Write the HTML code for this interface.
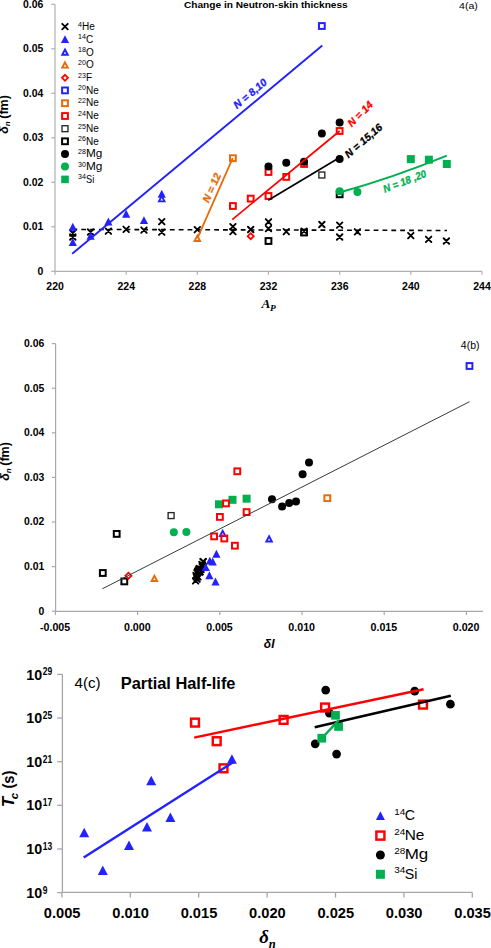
<!DOCTYPE html>
<html><head><meta charset="utf-8"><style>html,body{margin:0;padding:0;background:#fff;width:491px;height:948px;overflow:hidden}svg{display:block}</style></head>
<body><svg width="491" height="948" viewBox="0 0 491 948">
<rect width="491" height="948" fill="#fff"/>
<line x1="55.00" y1="4.30" x2="55.00" y2="271.30" stroke="#c4c4c4" stroke-width="1.6" />
<line x1="55.00" y1="271.30" x2="482.00" y2="271.30" stroke="#b0b0b0" stroke-width="1.3" />
<line x1="51.20" y1="271.30" x2="55.00" y2="271.30" stroke="#b0b0b0" stroke-width="1.2" />
<text transform="translate(43.23,274.75) scale(1.008,1)" font-size="10.34" font-family="Liberation Sans, sans-serif" font-weight="bold" font-style="normal" text-anchor="end" fill="#000000">0</text>
<line x1="51.20" y1="226.80" x2="55.00" y2="226.80" stroke="#b0b0b0" stroke-width="1.2" />
<text transform="translate(43.23,230.25) scale(1.008,1)" font-size="10.34" font-family="Liberation Sans, sans-serif" font-weight="bold" font-style="normal" text-anchor="end" fill="#000000">0.01</text>
<line x1="51.20" y1="182.30" x2="55.00" y2="182.30" stroke="#b0b0b0" stroke-width="1.2" />
<text transform="translate(43.23,185.75) scale(1.008,1)" font-size="10.34" font-family="Liberation Sans, sans-serif" font-weight="bold" font-style="normal" text-anchor="end" fill="#000000">0.02</text>
<line x1="51.20" y1="137.80" x2="55.00" y2="137.80" stroke="#b0b0b0" stroke-width="1.2" />
<text transform="translate(43.23,141.25) scale(1.008,1)" font-size="10.34" font-family="Liberation Sans, sans-serif" font-weight="bold" font-style="normal" text-anchor="end" fill="#000000">0.03</text>
<line x1="51.20" y1="93.30" x2="55.00" y2="93.30" stroke="#b0b0b0" stroke-width="1.2" />
<text transform="translate(43.23,96.75) scale(1.008,1)" font-size="10.34" font-family="Liberation Sans, sans-serif" font-weight="bold" font-style="normal" text-anchor="end" fill="#000000">0.04</text>
<line x1="51.20" y1="48.80" x2="55.00" y2="48.80" stroke="#b0b0b0" stroke-width="1.2" />
<text transform="translate(43.23,52.25) scale(1.008,1)" font-size="10.34" font-family="Liberation Sans, sans-serif" font-weight="bold" font-style="normal" text-anchor="end" fill="#000000">0.05</text>
<line x1="51.20" y1="4.30" x2="55.00" y2="4.30" stroke="#b0b0b0" stroke-width="1.2" />
<text transform="translate(43.23,7.75) scale(1.008,1)" font-size="10.34" font-family="Liberation Sans, sans-serif" font-weight="bold" font-style="normal" text-anchor="end" fill="#000000">0.06</text>
<line x1="55.00" y1="271.30" x2="55.00" y2="274.80" stroke="#b0b0b0" stroke-width="1.2" />
<text transform="translate(55.07,289.70) scale(0.937,1)" font-size="11.23" font-family="Liberation Sans, sans-serif" font-weight="bold" font-style="normal" text-anchor="middle" fill="#000000">220</text>
<line x1="126.16" y1="271.30" x2="126.16" y2="274.80" stroke="#b0b0b0" stroke-width="1.2" />
<text transform="translate(126.23,289.70) scale(0.937,1)" font-size="11.23" font-family="Liberation Sans, sans-serif" font-weight="bold" font-style="normal" text-anchor="middle" fill="#000000">224</text>
<line x1="197.32" y1="271.30" x2="197.32" y2="274.80" stroke="#b0b0b0" stroke-width="1.2" />
<text transform="translate(197.39,289.70) scale(0.937,1)" font-size="11.23" font-family="Liberation Sans, sans-serif" font-weight="bold" font-style="normal" text-anchor="middle" fill="#000000">228</text>
<line x1="268.48" y1="271.30" x2="268.48" y2="274.80" stroke="#b0b0b0" stroke-width="1.2" />
<text transform="translate(268.55,289.70) scale(0.937,1)" font-size="11.23" font-family="Liberation Sans, sans-serif" font-weight="bold" font-style="normal" text-anchor="middle" fill="#000000">232</text>
<line x1="339.64" y1="271.30" x2="339.64" y2="274.80" stroke="#b0b0b0" stroke-width="1.2" />
<text transform="translate(339.71,289.70) scale(0.937,1)" font-size="11.23" font-family="Liberation Sans, sans-serif" font-weight="bold" font-style="normal" text-anchor="middle" fill="#000000">236</text>
<line x1="410.80" y1="271.30" x2="410.80" y2="274.80" stroke="#b0b0b0" stroke-width="1.2" />
<text transform="translate(410.87,289.70) scale(0.937,1)" font-size="11.23" font-family="Liberation Sans, sans-serif" font-weight="bold" font-style="normal" text-anchor="middle" fill="#000000">240</text>
<line x1="481.96" y1="271.30" x2="481.96" y2="274.80" stroke="#b0b0b0" stroke-width="1.2" />
<text transform="translate(482.03,289.70) scale(0.937,1)" font-size="11.23" font-family="Liberation Sans, sans-serif" font-weight="bold" font-style="normal" text-anchor="middle" fill="#000000">244</text>
<text transform="translate(183.95,8.10) scale(1.023,1)" font-size="9.92" font-family="Liberation Sans, sans-serif" font-weight="bold" font-style="normal" text-anchor="start" fill="#000000">Change in Neutron-skin thickness</text>
<text transform="translate(459.12,8.70) scale(1.193,1)" font-size="8.84" font-family="Liberation Sans, sans-serif" font-weight="normal" font-style="normal" text-anchor="start" fill="#000000">4(a)</text>
<text transform="translate(8.4,133.8) rotate(-90)" font-size="12.5" font-weight="bold" font-family="Liberation Sans, sans-serif"><tspan font-style="italic">δ</tspan><tspan font-size="8" dy="2" font-style="italic">n</tspan><tspan dy="-2" dx="-0.9"> (fm)</tspan></text>
<text transform="translate(261.58,307.50) scale(1.003,1)" font-size="13.28" font-family="Liberation Serif, serif" font-weight="bold" font-style="italic" text-anchor="start" fill="#000000">A</text>
<text transform="translate(270.00,310.75) scale(1.100,1)" font-size="8.56" font-family="Liberation Serif, serif" font-weight="bold" font-style="italic" text-anchor="start" fill="#000000">P</text>
<path d="M62.25,23.85L67.75,29.35M62.25,29.35L67.75,23.85" stroke="#000000" stroke-width="1.9" stroke-linecap="round" fill="none"/>
<path d="M65.00,35.21L69.10,43.09L60.90,43.09Z" fill="#2222ff"/>
<path d="M65.00,49.52L67.76,54.78L62.24,54.78Z" fill="none" stroke="#2222ff" stroke-width="1.9" stroke-linejoin="miter"/>
<path d="M65.00,62.32L67.76,67.58L62.24,67.58Z" fill="none" stroke="#e46c0a" stroke-width="1.9" stroke-linejoin="miter"/>
<path d="M65.00,74.80L68.00,77.80L65.00,80.80L62.00,77.80Z" fill="none" stroke="#ff0000" stroke-width="1.8"/>
<rect x="62.10" y="87.50" width="5.80" height="5.80" fill="none" stroke="#2222ff" stroke-width="2.0"/>
<rect x="62.10" y="100.30" width="5.80" height="5.80" fill="none" stroke="#e46c0a" stroke-width="2.0"/>
<rect x="62.10" y="113.10" width="5.80" height="5.80" fill="none" stroke="#ff0000" stroke-width="2.0"/>
<rect x="62.02" y="125.72" width="5.95" height="5.95" fill="none" stroke="#262626" stroke-width="1.35"/>
<rect x="62.10" y="138.40" width="5.80" height="5.80" fill="none" stroke="#000000" stroke-width="2.0"/>
<circle cx="65.00" cy="154.00" r="4.00" fill="#000000"/>
<circle cx="65.00" cy="166.60" r="4.00" fill="#00b050"/>
<rect x="61.20" y="175.60" width="7.60" height="7.60" fill="#00b050"/>
<text transform="translate(78.03,26.64) scale(1.008,1)" font-size="7.03" font-family="Liberation Sans, sans-serif" font-weight="normal" font-style="normal" text-anchor="start" fill="#000000">4</text>
<text transform="translate(82.10,29.80) scale(1.000,1)" font-size="10.00" font-family="Liberation Sans, sans-serif" font-weight="normal" font-style="normal" text-anchor="start" fill="#000000">He</text>
<text transform="translate(78.03,39.44) scale(1.008,1)" font-size="7.03" font-family="Liberation Sans, sans-serif" font-weight="normal" font-style="normal" text-anchor="start" fill="#000000">14</text>
<text transform="translate(86.00,42.60) scale(1.000,1)" font-size="10.00" font-family="Liberation Sans, sans-serif" font-weight="normal" font-style="normal" text-anchor="start" fill="#000000">C</text>
<text transform="translate(78.03,52.34) scale(1.008,1)" font-size="7.03" font-family="Liberation Sans, sans-serif" font-weight="normal" font-style="normal" text-anchor="start" fill="#000000">18</text>
<text transform="translate(86.00,55.50) scale(1.000,1)" font-size="10.00" font-family="Liberation Sans, sans-serif" font-weight="normal" font-style="normal" text-anchor="start" fill="#000000">O</text>
<text transform="translate(78.03,65.14) scale(1.008,1)" font-size="7.03" font-family="Liberation Sans, sans-serif" font-weight="normal" font-style="normal" text-anchor="start" fill="#000000">20</text>
<text transform="translate(86.00,68.30) scale(1.000,1)" font-size="10.00" font-family="Liberation Sans, sans-serif" font-weight="normal" font-style="normal" text-anchor="start" fill="#000000">O</text>
<text transform="translate(78.03,77.84) scale(1.008,1)" font-size="7.03" font-family="Liberation Sans, sans-serif" font-weight="normal" font-style="normal" text-anchor="start" fill="#000000">23</text>
<text transform="translate(86.00,81.00) scale(1.000,1)" font-size="10.00" font-family="Liberation Sans, sans-serif" font-weight="normal" font-style="normal" text-anchor="start" fill="#000000">F</text>
<text transform="translate(78.03,90.44) scale(1.008,1)" font-size="7.03" font-family="Liberation Sans, sans-serif" font-weight="normal" font-style="normal" text-anchor="start" fill="#000000">20</text>
<text transform="translate(86.00,93.60) scale(1.000,1)" font-size="10.00" font-family="Liberation Sans, sans-serif" font-weight="normal" font-style="normal" text-anchor="start" fill="#000000">Ne</text>
<text transform="translate(78.03,103.24) scale(1.008,1)" font-size="7.03" font-family="Liberation Sans, sans-serif" font-weight="normal" font-style="normal" text-anchor="start" fill="#000000">22</text>
<text transform="translate(86.00,106.40) scale(1.000,1)" font-size="10.00" font-family="Liberation Sans, sans-serif" font-weight="normal" font-style="normal" text-anchor="start" fill="#000000">Ne</text>
<text transform="translate(78.03,116.04) scale(1.008,1)" font-size="7.03" font-family="Liberation Sans, sans-serif" font-weight="normal" font-style="normal" text-anchor="start" fill="#000000">24</text>
<text transform="translate(86.00,119.20) scale(1.000,1)" font-size="10.00" font-family="Liberation Sans, sans-serif" font-weight="normal" font-style="normal" text-anchor="start" fill="#000000">Ne</text>
<text transform="translate(78.03,128.74) scale(1.008,1)" font-size="7.03" font-family="Liberation Sans, sans-serif" font-weight="normal" font-style="normal" text-anchor="start" fill="#000000">25</text>
<text transform="translate(86.00,131.90) scale(1.000,1)" font-size="10.00" font-family="Liberation Sans, sans-serif" font-weight="normal" font-style="normal" text-anchor="start" fill="#000000">Ne</text>
<text transform="translate(78.03,141.34) scale(1.008,1)" font-size="7.03" font-family="Liberation Sans, sans-serif" font-weight="normal" font-style="normal" text-anchor="start" fill="#000000">26</text>
<text transform="translate(86.00,144.50) scale(1.000,1)" font-size="10.00" font-family="Liberation Sans, sans-serif" font-weight="normal" font-style="normal" text-anchor="start" fill="#000000">Ne</text>
<text transform="translate(78.03,154.04) scale(1.008,1)" font-size="7.03" font-family="Liberation Sans, sans-serif" font-weight="normal" font-style="normal" text-anchor="start" fill="#000000">28</text>
<text transform="translate(86.00,157.20) scale(1.180,1)" font-size="10.00" font-family="Liberation Sans, sans-serif" font-weight="normal" font-style="normal" text-anchor="start" fill="#000000">Mg</text>
<text transform="translate(78.03,166.64) scale(1.008,1)" font-size="7.03" font-family="Liberation Sans, sans-serif" font-weight="normal" font-style="normal" text-anchor="start" fill="#000000">30</text>
<text transform="translate(86.00,169.80) scale(1.180,1)" font-size="10.00" font-family="Liberation Sans, sans-serif" font-weight="normal" font-style="normal" text-anchor="start" fill="#000000">Mg</text>
<text transform="translate(78.03,179.44) scale(1.008,1)" font-size="7.03" font-family="Liberation Sans, sans-serif" font-weight="normal" font-style="normal" text-anchor="start" fill="#000000">34</text>
<text transform="translate(86.00,182.60) scale(0.920,1)" font-size="10.00" font-family="Liberation Sans, sans-serif" font-weight="normal" font-style="normal" text-anchor="start" fill="#000000">Si</text>
<line x1="72.40" y1="229.40" x2="447.00" y2="230.50" stroke="#000000" stroke-width="1.6" stroke-dasharray="4.8,4.06"/>
<path d="M70.04,230.25L75.54,235.75M70.04,235.75L75.54,230.25" stroke="#000000" stroke-width="1.9" stroke-linecap="round" fill="none"/>
<path d="M70.04,234.25L75.54,239.75M70.04,239.75L75.54,234.25" stroke="#000000" stroke-width="1.9" stroke-linecap="round" fill="none"/>
<path d="M87.83,229.25L93.33,234.75M87.83,234.75L93.33,229.25" stroke="#000000" stroke-width="1.9" stroke-linecap="round" fill="none"/>
<path d="M105.62,228.45L111.12,233.95M105.62,233.95L111.12,228.45" stroke="#000000" stroke-width="1.9" stroke-linecap="round" fill="none"/>
<path d="M123.41,226.55L128.91,232.05M123.41,232.05L128.91,226.55" stroke="#000000" stroke-width="1.9" stroke-linecap="round" fill="none"/>
<path d="M141.20,227.35L146.70,232.85M141.20,232.85L146.70,227.35" stroke="#000000" stroke-width="1.9" stroke-linecap="round" fill="none"/>
<path d="M158.99,218.95L164.49,224.45M158.99,224.45L164.49,218.95" stroke="#000000" stroke-width="1.9" stroke-linecap="round" fill="none"/>
<path d="M158.99,229.45L164.49,234.95M158.99,234.95L164.49,229.45" stroke="#000000" stroke-width="1.9" stroke-linecap="round" fill="none"/>
<path d="M194.57,226.95L200.07,232.45M194.57,232.45L200.07,226.95" stroke="#000000" stroke-width="1.9" stroke-linecap="round" fill="none"/>
<path d="M230.15,223.95L235.65,229.45M230.15,229.45L235.65,223.95" stroke="#000000" stroke-width="1.9" stroke-linecap="round" fill="none"/>
<path d="M230.15,228.85L235.65,234.35M230.15,234.35L235.65,228.85" stroke="#000000" stroke-width="1.9" stroke-linecap="round" fill="none"/>
<path d="M247.94,226.75L253.44,232.25M247.94,232.25L253.44,226.75" stroke="#000000" stroke-width="1.9" stroke-linecap="round" fill="none"/>
<path d="M265.73,219.05L271.23,224.55M265.73,224.55L271.23,219.05" stroke="#000000" stroke-width="1.9" stroke-linecap="round" fill="none"/>
<path d="M265.73,225.85L271.23,231.35M265.73,231.35L271.23,225.85" stroke="#000000" stroke-width="1.9" stroke-linecap="round" fill="none"/>
<path d="M283.52,228.95L289.02,234.45M283.52,234.45L289.02,228.95" stroke="#000000" stroke-width="1.9" stroke-linecap="round" fill="none"/>
<path d="M301.31,228.45L306.81,233.95M301.31,233.95L306.81,228.45" stroke="#000000" stroke-width="1.9" stroke-linecap="round" fill="none"/>
<path d="M319.10,221.75L324.60,227.25M319.10,227.25L324.60,221.75" stroke="#000000" stroke-width="1.9" stroke-linecap="round" fill="none"/>
<path d="M336.89,222.45L342.39,227.95M336.89,227.95L342.39,222.45" stroke="#000000" stroke-width="1.9" stroke-linecap="round" fill="none"/>
<path d="M336.89,234.25L342.39,239.75M336.89,239.75L342.39,234.25" stroke="#000000" stroke-width="1.9" stroke-linecap="round" fill="none"/>
<path d="M354.68,229.05L360.18,234.55M354.68,234.55L360.18,229.05" stroke="#000000" stroke-width="1.9" stroke-linecap="round" fill="none"/>
<path d="M408.05,232.85L413.55,238.35M408.05,238.35L413.55,232.85" stroke="#000000" stroke-width="1.9" stroke-linecap="round" fill="none"/>
<path d="M425.84,236.55L431.34,242.05M425.84,242.05L431.34,236.55" stroke="#000000" stroke-width="1.9" stroke-linecap="round" fill="none"/>
<path d="M443.63,238.25L449.13,243.75M443.63,243.75L449.13,238.25" stroke="#000000" stroke-width="1.9" stroke-linecap="round" fill="none"/>
<path d="M72.79,222.81L76.89,230.69L68.69,230.69Z" fill="#2222ff"/>
<path d="M72.79,238.01L76.89,245.89L68.69,245.89Z" fill="#2222ff"/>
<path d="M90.58,231.81L94.68,239.69L86.48,239.69Z" fill="#2222ff"/>
<path d="M108.37,217.61L112.47,225.49L104.27,225.49Z" fill="#2222ff"/>
<path d="M126.16,209.81L130.26,217.69L122.06,217.69Z" fill="#2222ff"/>
<path d="M143.95,216.21L148.05,224.09L139.85,224.09Z" fill="#2222ff"/>
<path d="M161.74,189.81L165.84,197.69L157.64,197.69Z" fill="#2222ff"/>
<path d="M161.74,196.12L164.50,201.38L158.98,201.38Z" fill="none" stroke="#2222ff" stroke-width="1.9" stroke-linejoin="miter"/>
<path d="M197.32,235.72L200.08,240.98L194.56,240.98Z" fill="none" stroke="#e46c0a" stroke-width="1.9" stroke-linejoin="miter"/>
<path d="M250.69,233.20L253.69,236.20L250.69,239.20L247.69,236.20Z" fill="none" stroke="#ff0000" stroke-width="1.8"/>
<rect x="318.95" y="23.10" width="5.80" height="5.80" fill="none" stroke="#2222ff" stroke-width="2.0"/>
<rect x="230.00" y="155.30" width="5.80" height="5.80" fill="none" stroke="#e46c0a" stroke-width="2.0"/>
<rect x="230.00" y="203.10" width="5.80" height="5.80" fill="none" stroke="#ff0000" stroke-width="2.0"/>
<rect x="247.79" y="195.70" width="5.80" height="5.80" fill="none" stroke="#ff0000" stroke-width="2.0"/>
<rect x="265.58" y="169.10" width="5.80" height="5.80" fill="none" stroke="#ff0000" stroke-width="2.0"/>
<rect x="265.58" y="193.10" width="5.80" height="5.80" fill="none" stroke="#ff0000" stroke-width="2.0"/>
<rect x="283.37" y="174.00" width="5.80" height="5.80" fill="none" stroke="#ff0000" stroke-width="2.0"/>
<rect x="301.16" y="161.10" width="5.80" height="5.80" fill="none" stroke="#ff0000" stroke-width="2.0"/>
<rect x="336.74" y="128.10" width="5.80" height="5.80" fill="none" stroke="#ff0000" stroke-width="2.0"/>
<rect x="318.87" y="172.03" width="5.95" height="5.95" fill="none" stroke="#262626" stroke-width="1.35"/>
<rect x="265.58" y="238.10" width="5.80" height="5.80" fill="none" stroke="#000000" stroke-width="2.0"/>
<rect x="301.16" y="229.60" width="5.80" height="5.80" fill="none" stroke="#000000" stroke-width="2.0"/>
<rect x="336.74" y="191.40" width="5.80" height="5.80" fill="none" stroke="#000000" stroke-width="2.0"/>
<circle cx="268.48" cy="166.50" r="4.00" fill="#000000"/>
<circle cx="286.27" cy="162.80" r="4.00" fill="#000000"/>
<circle cx="304.06" cy="161.70" r="4.00" fill="#000000"/>
<circle cx="321.85" cy="133.60" r="4.00" fill="#000000"/>
<circle cx="339.64" cy="122.40" r="4.00" fill="#000000"/>
<circle cx="339.64" cy="159.10" r="4.00" fill="#000000"/>
<circle cx="339.64" cy="191.20" r="4.00" fill="#00b050"/>
<circle cx="357.43" cy="192.00" r="4.00" fill="#00b050"/>
<rect x="406.80" y="155.10" width="8.00" height="8.00" fill="#00b050"/>
<rect x="424.90" y="155.70" width="8.00" height="8.00" fill="#00b050"/>
<rect x="442.80" y="160.00" width="8.00" height="8.00" fill="#00b050"/>
<line x1="72.20" y1="253.80" x2="322.30" y2="45.60" stroke="#2222ff" stroke-width="1.9" />
<line x1="197.70" y1="237.70" x2="232.70" y2="158.20" stroke="#e46c0a" stroke-width="1.8" />
<line x1="232.20" y1="219.60" x2="339.70" y2="131.00" stroke="#ff0000" stroke-width="1.7" />
<line x1="268.20" y1="200.20" x2="339.70" y2="157.60" stroke="#000000" stroke-width="1.7" />
<path d="M339.5,192.5 Q393.2,177.6 446.8,155.6" stroke="#00b050" stroke-width="2" fill="none"/>
<text transform="translate(250.0,93.5) rotate(-39.8) scale(1.0,1)" text-anchor="middle" font-size="10.5" font-weight="bold" font-style="italic" fill="#2222ff" stroke="#2222ff" stroke-width="0.3" font-family="Liberation Sans, sans-serif" x="0" y="3.8">N = 8,10</text>
<text transform="translate(211.5,187.8) rotate(-66) scale(1.0,1)" text-anchor="middle" font-size="10.5" font-weight="bold" font-style="italic" fill="#e46c0a" stroke="#e46c0a" stroke-width="0.3" font-family="Liberation Sans, sans-serif" x="0" y="3.8">N = 12</text>
<text transform="translate(360,113.8) rotate(-45) scale(1.0,1)" text-anchor="middle" font-size="10.5" font-weight="bold" font-style="italic" fill="#ff0000" stroke="#ff0000" stroke-width="0.3" font-family="Liberation Sans, sans-serif" x="0" y="3.8">N = 14</text>
<text transform="translate(363.3,140.5) rotate(-41) scale(1.0,1)" text-anchor="middle" font-size="10.5" font-weight="bold" font-style="italic" fill="#000000" stroke="#000000" stroke-width="0.3" font-family="Liberation Sans, sans-serif" x="0" y="3.8">N = 15,16</text>
<text transform="translate(404.6,181.0) rotate(-21) scale(0.93,1)" text-anchor="middle" font-size="10.5" font-weight="bold" font-style="italic" fill="#00b050" stroke="#00b050" stroke-width="0.3" font-family="Liberation Sans, sans-serif" x="0" y="3.8">N = 18 ,20</text>
<line x1="55.60" y1="343.60" x2="55.60" y2="611.40" stroke="#a8a8a8" stroke-width="1.2" />
<line x1="55.60" y1="611.40" x2="483.00" y2="611.40" stroke="#a8a8a8" stroke-width="1.2" />
<line x1="51.90" y1="611.20" x2="55.60" y2="611.20" stroke="#a8a8a8" stroke-width="1.2" />
<text transform="translate(44.33,614.65) scale(1.008,1)" font-size="10.34" font-family="Liberation Sans, sans-serif" font-weight="bold" font-style="normal" text-anchor="end" fill="#000000">0</text>
<line x1="51.90" y1="566.60" x2="55.60" y2="566.60" stroke="#a8a8a8" stroke-width="1.2" />
<text transform="translate(44.33,570.05) scale(1.008,1)" font-size="10.34" font-family="Liberation Sans, sans-serif" font-weight="bold" font-style="normal" text-anchor="end" fill="#000000">0.01</text>
<line x1="51.90" y1="522.00" x2="55.60" y2="522.00" stroke="#a8a8a8" stroke-width="1.2" />
<text transform="translate(44.33,525.45) scale(1.008,1)" font-size="10.34" font-family="Liberation Sans, sans-serif" font-weight="bold" font-style="normal" text-anchor="end" fill="#000000">0.02</text>
<line x1="51.90" y1="477.40" x2="55.60" y2="477.40" stroke="#a8a8a8" stroke-width="1.2" />
<text transform="translate(44.33,480.85) scale(1.008,1)" font-size="10.34" font-family="Liberation Sans, sans-serif" font-weight="bold" font-style="normal" text-anchor="end" fill="#000000">0.03</text>
<line x1="51.90" y1="432.80" x2="55.60" y2="432.80" stroke="#a8a8a8" stroke-width="1.2" />
<text transform="translate(44.33,436.25) scale(1.008,1)" font-size="10.34" font-family="Liberation Sans, sans-serif" font-weight="bold" font-style="normal" text-anchor="end" fill="#000000">0.04</text>
<line x1="51.90" y1="388.20" x2="55.60" y2="388.20" stroke="#a8a8a8" stroke-width="1.2" />
<text transform="translate(44.33,391.65) scale(1.008,1)" font-size="10.34" font-family="Liberation Sans, sans-serif" font-weight="bold" font-style="normal" text-anchor="end" fill="#000000">0.05</text>
<line x1="51.90" y1="343.60" x2="55.60" y2="343.60" stroke="#a8a8a8" stroke-width="1.2" />
<text transform="translate(44.33,347.05) scale(1.008,1)" font-size="10.34" font-family="Liberation Sans, sans-serif" font-weight="bold" font-style="normal" text-anchor="end" fill="#000000">0.06</text>
<line x1="55.40" y1="611.40" x2="55.40" y2="614.90" stroke="#a8a8a8" stroke-width="1.2" />
<text transform="translate(55.07,631.00) scale(1.021,1)" font-size="10.43" font-family="Liberation Sans, sans-serif" font-weight="bold" font-style="normal" text-anchor="middle" fill="#000000">-0.005</text>
<line x1="137.60" y1="611.40" x2="137.60" y2="614.90" stroke="#a8a8a8" stroke-width="1.2" />
<text transform="translate(137.27,631.00) scale(1.021,1)" font-size="10.43" font-family="Liberation Sans, sans-serif" font-weight="bold" font-style="normal" text-anchor="middle" fill="#000000">0.000</text>
<line x1="219.80" y1="611.40" x2="219.80" y2="614.90" stroke="#a8a8a8" stroke-width="1.2" />
<text transform="translate(219.47,631.00) scale(1.021,1)" font-size="10.43" font-family="Liberation Sans, sans-serif" font-weight="bold" font-style="normal" text-anchor="middle" fill="#000000">0.005</text>
<line x1="302.00" y1="611.40" x2="302.00" y2="614.90" stroke="#a8a8a8" stroke-width="1.2" />
<text transform="translate(301.67,631.00) scale(1.021,1)" font-size="10.43" font-family="Liberation Sans, sans-serif" font-weight="bold" font-style="normal" text-anchor="middle" fill="#000000">0.010</text>
<line x1="384.20" y1="611.40" x2="384.20" y2="614.90" stroke="#a8a8a8" stroke-width="1.2" />
<text transform="translate(383.87,631.00) scale(1.021,1)" font-size="10.43" font-family="Liberation Sans, sans-serif" font-weight="bold" font-style="normal" text-anchor="middle" fill="#000000">0.015</text>
<line x1="466.40" y1="611.40" x2="466.40" y2="614.90" stroke="#a8a8a8" stroke-width="1.2" />
<text transform="translate(466.07,631.00) scale(1.021,1)" font-size="10.43" font-family="Liberation Sans, sans-serif" font-weight="bold" font-style="normal" text-anchor="middle" fill="#000000">0.020</text>
<text transform="translate(460.79,348.77) scale(0.961,1)" font-size="10.96" font-family="Liberation Sans, sans-serif" font-weight="normal" font-style="normal" text-anchor="start" fill="#000000">4(b)</text>
<text transform="translate(8.9,480.8) rotate(-90)" font-size="12.5" font-weight="bold" font-family="Liberation Sans, sans-serif"><tspan font-style="italic">δ</tspan><tspan font-size="8" dy="2" font-style="italic">n</tspan><tspan dy="-2" dx="-0.9"> (fm)</tspan></text>
<text transform="translate(263.81,647.80) scale(0.916,1)" font-size="13.15" font-family="Liberation Sans, sans-serif" font-weight="bold" font-style="italic" text-anchor="start" fill="#000000">δI</text>
<rect x="466.60" y="363.10" width="5.80" height="5.80" fill="none" stroke="#2222ff" stroke-width="2.0"/>
<rect x="99.90" y="570.10" width="5.80" height="5.80" fill="none" stroke="#000000" stroke-width="2.0"/>
<rect x="113.80" y="531.00" width="5.80" height="5.80" fill="none" stroke="#000000" stroke-width="2.0"/>
<rect x="121.40" y="578.50" width="5.80" height="5.80" fill="none" stroke="#000000" stroke-width="2.0"/>
<path d="M128.40,572.70L131.40,575.70L128.40,578.70L125.40,575.70Z" fill="none" stroke="#ff0000" stroke-width="1.8"/>
<path d="M154.40,575.72L157.16,580.98L151.64,580.98Z" fill="none" stroke="#e46c0a" stroke-width="1.9" stroke-linejoin="miter"/>
<rect x="168.12" y="512.62" width="5.95" height="5.95" fill="none" stroke="#262626" stroke-width="1.35"/>
<circle cx="173.80" cy="532.30" r="4.00" fill="#00b050"/>
<circle cx="186.40" cy="532.00" r="4.00" fill="#00b050"/>
<rect x="215.00" y="500.30" width="8.00" height="8.00" fill="#00b050"/>
<rect x="228.50" y="495.80" width="8.00" height="8.00" fill="#00b050"/>
<rect x="242.60" y="494.70" width="8.00" height="8.00" fill="#00b050"/>
<path d="M222.70,530.82L225.46,536.08L219.94,536.08Z" fill="none" stroke="#2222ff" stroke-width="1.9" stroke-linejoin="miter"/>
<path d="M269.10,536.22L271.86,541.48L266.34,541.48Z" fill="none" stroke="#2222ff" stroke-width="1.9" stroke-linejoin="miter"/>
<rect x="223.10" y="500.50" width="5.80" height="5.80" fill="none" stroke="#ff0000" stroke-width="2.0"/>
<rect x="217.00" y="514.00" width="5.80" height="5.80" fill="none" stroke="#ff0000" stroke-width="2.0"/>
<rect x="211.20" y="533.50" width="5.80" height="5.80" fill="none" stroke="#ff0000" stroke-width="2.0"/>
<rect x="221.40" y="535.60" width="5.80" height="5.80" fill="none" stroke="#ff0000" stroke-width="2.0"/>
<rect x="232.00" y="542.80" width="5.80" height="5.80" fill="none" stroke="#ff0000" stroke-width="2.0"/>
<rect x="234.40" y="468.40" width="5.80" height="5.80" fill="none" stroke="#ff0000" stroke-width="2.0"/>
<rect x="243.70" y="509.20" width="5.80" height="5.80" fill="none" stroke="#ff0000" stroke-width="2.0"/>
<path d="M194.30,570.15L199.80,575.65M194.30,575.65L199.80,570.15" stroke="#000000" stroke-width="1.9" stroke-linecap="round" fill="none"/>
<path d="M195.23,574.15L200.73,579.65M195.23,579.65L200.73,574.15" stroke="#000000" stroke-width="1.9" stroke-linecap="round" fill="none"/>
<path d="M196.39,569.15L201.89,574.65M196.39,574.65L201.89,569.15" stroke="#000000" stroke-width="1.9" stroke-linecap="round" fill="none"/>
<path d="M195.51,568.35L201.01,573.85M195.51,573.85L201.01,568.35" stroke="#000000" stroke-width="1.9" stroke-linecap="round" fill="none"/>
<path d="M198.06,566.45L203.56,571.95M198.06,571.95L203.56,566.45" stroke="#000000" stroke-width="1.9" stroke-linecap="round" fill="none"/>
<path d="M195.64,567.25L201.14,572.75M195.64,572.75L201.14,567.25" stroke="#000000" stroke-width="1.9" stroke-linecap="round" fill="none"/>
<path d="M200.35,558.85L205.85,564.35M200.35,564.35L205.85,558.85" stroke="#000000" stroke-width="1.9" stroke-linecap="round" fill="none"/>
<path d="M196.82,569.35L202.32,574.85M196.82,574.85L202.32,569.35" stroke="#000000" stroke-width="1.9" stroke-linecap="round" fill="none"/>
<path d="M196.40,566.85L201.90,572.35M196.40,572.35L201.90,566.85" stroke="#000000" stroke-width="1.9" stroke-linecap="round" fill="none"/>
<path d="M199.38,563.85L204.88,569.35M199.38,569.35L204.88,563.85" stroke="#000000" stroke-width="1.9" stroke-linecap="round" fill="none"/>
<path d="M194.85,568.75L200.35,574.25M194.85,574.25L200.35,568.75" stroke="#000000" stroke-width="1.9" stroke-linecap="round" fill="none"/>
<path d="M198.18,566.65L203.68,572.15M198.18,572.15L203.68,566.65" stroke="#000000" stroke-width="1.9" stroke-linecap="round" fill="none"/>
<path d="M200.41,558.95L205.91,564.45M200.41,564.45L205.91,558.95" stroke="#000000" stroke-width="1.9" stroke-linecap="round" fill="none"/>
<path d="M196.53,565.75L202.03,571.25M196.53,571.25L202.03,565.75" stroke="#000000" stroke-width="1.9" stroke-linecap="round" fill="none"/>
<path d="M197.11,568.85L202.61,574.35M197.11,574.35L202.61,568.85" stroke="#000000" stroke-width="1.9" stroke-linecap="round" fill="none"/>
<path d="M194.58,569.95L200.08,575.45M194.58,575.45L200.08,569.95" stroke="#000000" stroke-width="1.9" stroke-linecap="round" fill="none"/>
<path d="M199.25,561.65L204.75,567.15M199.25,567.15L204.75,561.65" stroke="#000000" stroke-width="1.9" stroke-linecap="round" fill="none"/>
<path d="M199.57,562.35L205.07,567.85M199.57,567.85L205.07,562.35" stroke="#000000" stroke-width="1.9" stroke-linecap="round" fill="none"/>
<path d="M193.53,574.15L199.03,579.65M193.53,579.65L199.03,574.15" stroke="#000000" stroke-width="1.9" stroke-linecap="round" fill="none"/>
<path d="M197.37,568.95L202.87,574.45M197.37,574.45L202.87,568.95" stroke="#000000" stroke-width="1.9" stroke-linecap="round" fill="none"/>
<path d="M193.28,572.75L198.78,578.25M193.28,578.25L198.78,572.75" stroke="#000000" stroke-width="1.9" stroke-linecap="round" fill="none"/>
<path d="M194.32,576.45L199.82,581.95M194.32,581.95L199.82,576.45" stroke="#000000" stroke-width="1.9" stroke-linecap="round" fill="none"/>
<path d="M192.85,578.15L198.35,583.65M192.85,583.65L198.35,578.15" stroke="#000000" stroke-width="1.9" stroke-linecap="round" fill="none"/>
<path d="M216.40,549.81L220.50,557.69L212.30,557.69Z" fill="#2222ff"/>
<path d="M209.80,556.71L213.90,564.59L205.70,564.59Z" fill="#2222ff"/>
<path d="M212.70,557.51L216.80,565.39L208.60,565.39Z" fill="#2222ff"/>
<path d="M205.80,563.21L209.90,571.09L201.70,571.09Z" fill="#2222ff"/>
<path d="M209.40,571.31L213.50,579.19L205.30,579.19Z" fill="#2222ff"/>
<path d="M215.50,577.51L219.60,585.39L211.40,585.39Z" fill="#2222ff"/>
<circle cx="272.00" cy="499.20" r="4.00" fill="#000000"/>
<circle cx="282.10" cy="506.50" r="4.00" fill="#000000"/>
<circle cx="289.20" cy="503.10" r="4.00" fill="#000000"/>
<circle cx="296.00" cy="501.60" r="4.00" fill="#000000"/>
<circle cx="302.60" cy="474.20" r="4.00" fill="#000000"/>
<circle cx="309.00" cy="462.50" r="4.00" fill="#000000"/>
<rect x="324.40" y="495.30" width="5.80" height="5.80" fill="none" stroke="#e46c0a" stroke-width="2.0"/>
<line x1="102.30" y1="588.80" x2="469.50" y2="401.70" stroke="#3a3a3a" stroke-width="1.0" />
<line x1="62.40" y1="674.40" x2="62.40" y2="892.40" stroke="#a6a6a6" stroke-width="1.3" />
<line x1="62.40" y1="892.40" x2="472.30" y2="892.40" stroke="#a6a6a6" stroke-width="1.3" />
<line x1="57.20" y1="892.60" x2="62.40" y2="892.60" stroke="#a6a6a6" stroke-width="1.3" />
<text transform="translate(26.19,897.70) scale(0.925,1)" font-size="15.44" font-family="Liberation Sans, sans-serif" font-weight="bold" font-style="normal" text-anchor="start" fill="#000000">10</text>
<text transform="translate(42.85,893.50) scale(0.831,1)" font-size="10.18" font-family="Liberation Sans, sans-serif" font-weight="bold" font-style="normal" text-anchor="start" fill="#000000">9</text>
<line x1="57.20" y1="848.96" x2="62.40" y2="848.96" stroke="#a6a6a6" stroke-width="1.3" />
<text transform="translate(26.19,854.06) scale(0.925,1)" font-size="15.44" font-family="Liberation Sans, sans-serif" font-weight="bold" font-style="normal" text-anchor="start" fill="#000000">10</text>
<text transform="translate(42.85,849.86) scale(0.831,1)" font-size="10.18" font-family="Liberation Sans, sans-serif" font-weight="bold" font-style="normal" text-anchor="start" fill="#000000">13</text>
<line x1="57.20" y1="805.32" x2="62.40" y2="805.32" stroke="#a6a6a6" stroke-width="1.3" />
<text transform="translate(26.19,810.42) scale(0.925,1)" font-size="15.44" font-family="Liberation Sans, sans-serif" font-weight="bold" font-style="normal" text-anchor="start" fill="#000000">10</text>
<text transform="translate(42.85,806.22) scale(0.831,1)" font-size="10.18" font-family="Liberation Sans, sans-serif" font-weight="bold" font-style="normal" text-anchor="start" fill="#000000">17</text>
<line x1="57.20" y1="761.68" x2="62.40" y2="761.68" stroke="#a6a6a6" stroke-width="1.3" />
<text transform="translate(26.19,766.78) scale(0.925,1)" font-size="15.44" font-family="Liberation Sans, sans-serif" font-weight="bold" font-style="normal" text-anchor="start" fill="#000000">10</text>
<text transform="translate(42.85,762.58) scale(0.831,1)" font-size="10.18" font-family="Liberation Sans, sans-serif" font-weight="bold" font-style="normal" text-anchor="start" fill="#000000">21</text>
<line x1="57.20" y1="718.04" x2="62.40" y2="718.04" stroke="#a6a6a6" stroke-width="1.3" />
<text transform="translate(26.19,723.14) scale(0.925,1)" font-size="15.44" font-family="Liberation Sans, sans-serif" font-weight="bold" font-style="normal" text-anchor="start" fill="#000000">10</text>
<text transform="translate(42.85,718.94) scale(0.831,1)" font-size="10.18" font-family="Liberation Sans, sans-serif" font-weight="bold" font-style="normal" text-anchor="start" fill="#000000">25</text>
<line x1="57.20" y1="674.40" x2="62.40" y2="674.40" stroke="#a6a6a6" stroke-width="1.3" />
<text transform="translate(26.19,679.50) scale(0.925,1)" font-size="15.44" font-family="Liberation Sans, sans-serif" font-weight="bold" font-style="normal" text-anchor="start" fill="#000000">10</text>
<text transform="translate(42.85,675.30) scale(0.831,1)" font-size="10.18" font-family="Liberation Sans, sans-serif" font-weight="bold" font-style="normal" text-anchor="start" fill="#000000">29</text>
<line x1="61.90" y1="892.40" x2="61.90" y2="897.60" stroke="#a6a6a6" stroke-width="1.3" />
<text transform="translate(62.19,918.30) scale(0.983,1)" font-size="14.92" font-family="Liberation Sans, sans-serif" font-weight="bold" font-style="normal" text-anchor="middle" fill="#000000">0.005</text>
<line x1="130.30" y1="892.40" x2="130.30" y2="897.60" stroke="#a6a6a6" stroke-width="1.3" />
<text transform="translate(130.59,918.30) scale(0.983,1)" font-size="14.92" font-family="Liberation Sans, sans-serif" font-weight="bold" font-style="normal" text-anchor="middle" fill="#000000">0.010</text>
<line x1="198.70" y1="892.40" x2="198.70" y2="897.60" stroke="#a6a6a6" stroke-width="1.3" />
<text transform="translate(198.99,918.30) scale(0.983,1)" font-size="14.92" font-family="Liberation Sans, sans-serif" font-weight="bold" font-style="normal" text-anchor="middle" fill="#000000">0.015</text>
<line x1="267.10" y1="892.40" x2="267.10" y2="897.60" stroke="#a6a6a6" stroke-width="1.3" />
<text transform="translate(267.39,918.30) scale(0.983,1)" font-size="14.92" font-family="Liberation Sans, sans-serif" font-weight="bold" font-style="normal" text-anchor="middle" fill="#000000">0.020</text>
<line x1="335.50" y1="892.40" x2="335.50" y2="897.60" stroke="#a6a6a6" stroke-width="1.3" />
<text transform="translate(335.79,918.30) scale(0.983,1)" font-size="14.92" font-family="Liberation Sans, sans-serif" font-weight="bold" font-style="normal" text-anchor="middle" fill="#000000">0.025</text>
<line x1="403.90" y1="892.40" x2="403.90" y2="897.60" stroke="#a6a6a6" stroke-width="1.3" />
<text transform="translate(404.19,918.30) scale(0.983,1)" font-size="14.92" font-family="Liberation Sans, sans-serif" font-weight="bold" font-style="normal" text-anchor="middle" fill="#000000">0.030</text>
<line x1="472.30" y1="892.40" x2="472.30" y2="897.60" stroke="#a6a6a6" stroke-width="1.3" />
<text transform="translate(472.59,918.30) scale(0.983,1)" font-size="14.92" font-family="Liberation Sans, sans-serif" font-weight="bold" font-style="normal" text-anchor="middle" fill="#000000">0.035</text>
<text transform="translate(74.47,687.90) scale(1.105,1)" font-size="13.72" font-family="Liberation Sans, sans-serif" font-weight="normal" font-style="normal" text-anchor="start" fill="#000000">4(c)</text>
<text transform="translate(120.75,689.00) scale(1.013,1)" font-size="16.19" font-family="Liberation Sans, sans-serif" font-weight="bold" font-style="normal" text-anchor="start" fill="#000000">Partial Half-life</text>
<g transform="translate(14.2,807.2) rotate(-90)" font-weight="bold" font-family="Liberation Sans, sans-serif"><text font-size="17" font-style="italic">T</text><text x="7.9" y="4" font-size="11.5" font-style="italic">c</text><text transform="translate(18.6,0) scale(0.87,1)" font-size="17">(s)</text></g>
<text transform="translate(259.21,942.95) scale(0.999,1)" font-size="18.88" font-family="Liberation Serif, serif" font-weight="bold" font-style="italic" text-anchor="start" fill="#000000">δ</text>
<text x="268.8" y="948.4" font-size="12.5" font-weight="bold" font-style="italic" font-family="Liberation Serif, serif">n</text>
<path d="M84.20,827.70L89.20,837.20L79.20,837.20Z" fill="#2222ff"/>
<path d="M102.80,865.60L107.80,875.10L97.80,875.10Z" fill="#2222ff"/>
<path d="M129.00,840.50L134.00,850.00L124.00,850.00Z" fill="#2222ff"/>
<path d="M147.00,822.00L152.00,831.50L142.00,831.50Z" fill="#2222ff"/>
<path d="M151.20,775.80L156.20,785.30L146.20,785.30Z" fill="#2222ff"/>
<path d="M170.40,812.60L175.40,822.10L165.40,822.10Z" fill="#2222ff"/>
<path d="M231.90,754.30L236.90,763.80L226.90,763.80Z" fill="#2222ff"/>
<circle cx="325.70" cy="690.10" r="4.35" fill="#000000"/>
<circle cx="329.40" cy="713.20" r="4.35" fill="#000000"/>
<circle cx="315.20" cy="743.80" r="4.35" fill="#000000"/>
<circle cx="336.60" cy="754.10" r="4.35" fill="#000000"/>
<circle cx="414.70" cy="691.20" r="4.35" fill="#000000"/>
<circle cx="450.40" cy="704.20" r="4.35" fill="#000000"/>
<rect x="191.07" y="718.68" width="7.85" height="7.85" fill="none" stroke="#ff0000" stroke-width="2.45"/>
<rect x="212.77" y="737.27" width="7.85" height="7.85" fill="none" stroke="#ff0000" stroke-width="2.45"/>
<rect x="219.57" y="764.38" width="7.85" height="7.85" fill="none" stroke="#ff0000" stroke-width="2.45"/>
<rect x="279.67" y="715.98" width="7.85" height="7.85" fill="none" stroke="#ff0000" stroke-width="2.45"/>
<rect x="321.17" y="703.58" width="7.85" height="7.85" fill="none" stroke="#ff0000" stroke-width="2.45"/>
<rect x="419.07" y="700.68" width="7.85" height="7.85" fill="none" stroke="#ff0000" stroke-width="2.45"/>
<rect x="331.15" y="710.95" width="8.70" height="8.70" fill="#00b050"/>
<rect x="334.25" y="722.15" width="8.70" height="8.70" fill="#00b050"/>
<rect x="317.45" y="733.85" width="8.70" height="8.70" fill="#00b050"/>
<line x1="83.70" y1="857.50" x2="234.70" y2="761.30" stroke="#2222ff" stroke-width="2.4" />
<line x1="194.20" y1="737.60" x2="423.60" y2="689.20" stroke="#ff0000" stroke-width="2.5" />
<line x1="314.70" y1="727.20" x2="450.80" y2="695.70" stroke="#000000" stroke-width="2.5" />
<line x1="321.80" y1="738.20" x2="338.60" y2="720.40" stroke="#00b050" stroke-width="2.4" />
<path d="M380.40,811.35L384.90,819.95L375.90,819.95Z" fill="#2222ff"/>
<rect x="376.38" y="831.58" width="8.05" height="8.05" fill="none" stroke="#ff0000" stroke-width="2.45"/>
<circle cx="380.40" cy="855.00" r="4.50" fill="#000000"/>
<rect x="375.90" y="869.80" width="9.00" height="9.00" fill="#00b050"/>
<text transform="translate(394.23,814.90) scale(0.997,1)" font-size="9.94" font-family="Liberation Sans, sans-serif" font-weight="normal" font-style="normal" text-anchor="start" fill="#000000">14</text>
<text transform="translate(404.70,820.10) scale(0.954,1)" font-size="14.95" font-family="Liberation Sans, sans-serif" font-weight="normal" font-style="normal" text-anchor="start" fill="#000000">C</text>
<text transform="translate(394.23,834.60) scale(0.997,1)" font-size="9.94" font-family="Liberation Sans, sans-serif" font-weight="normal" font-style="normal" text-anchor="start" fill="#000000">24</text>
<text transform="translate(404.70,839.80) scale(1.031,1)" font-size="14.95" font-family="Liberation Sans, sans-serif" font-weight="normal" font-style="normal" text-anchor="start" fill="#000000">Ne</text>
<text transform="translate(394.23,854.00) scale(0.997,1)" font-size="9.94" font-family="Liberation Sans, sans-serif" font-weight="normal" font-style="normal" text-anchor="start" fill="#000000">28</text>
<text transform="translate(404.70,859.20) scale(1.136,1)" font-size="14.95" font-family="Liberation Sans, sans-serif" font-weight="normal" font-style="normal" text-anchor="start" fill="#000000">Mg</text>
<text transform="translate(394.23,873.30) scale(0.997,1)" font-size="9.94" font-family="Liberation Sans, sans-serif" font-weight="normal" font-style="normal" text-anchor="start" fill="#000000">34</text>
<text transform="translate(404.70,878.50) scale(0.954,1)" font-size="14.95" font-family="Liberation Sans, sans-serif" font-weight="normal" font-style="normal" text-anchor="start" fill="#000000">Si</text>
</svg></body></html>
